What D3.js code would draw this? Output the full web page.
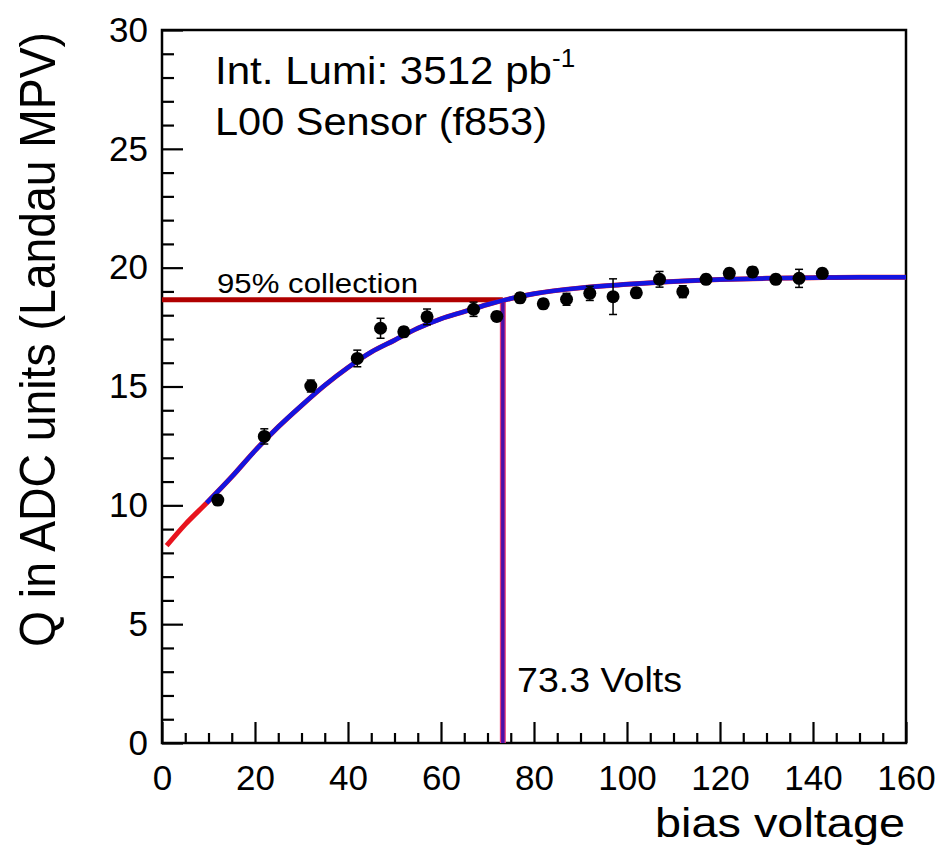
<!DOCTYPE html>
<html>
<head>
<meta charset="utf-8">
<title>Q vs bias voltage</title>
<script src="https://cdn.jsdelivr.net/npm/d3@7"></script>
<style>
  body { margin: 0; background: #fff; }
  svg { display: block; font-family: "Liberation Sans", Arial, sans-serif; }
  .domain { display: none; }
  .tick line { stroke: #000; stroke-width: 2.2; }
</style>
</head>
<body>
<svg id="chart" width="946" height="853"></svg>
<script>
// measured points
var voltage = [12, 22, 32, 42, 47, 52, 57, 67, 72, 77, 82, 87, 92, 97, 102, 107, 112, 117, 122, 127, 132, 137, 142];
var charge  = [10.22, 12.9, 15.02, 16.18, 17.45, 17.3, 17.93, 18.25, 17.95, 18.73, 18.48, 18.67, 18.92, 18.78, 18.94, 19.51, 18.99, 19.51, 19.76, 19.82, 19.51, 19.55, 19.76];
var chargeErr = [0.2, 0.32, 0.25, 0.35, 0.42, 0.2, 0.33, 0.3, 0.2, 0.2, 0.2, 0.25, 0.3, 0.75, 0.2, 0.33, 0.25, 0.2, 0.2, 0.2, 0.2, 0.38, 0.2];

// fit curve
var fitX = [1, 5, 9.6, 15, 20, 25, 30, 35, 40, 45, 50, 55, 60, 65, 70, 75, 80, 90, 100, 110, 120, 130, 140, 150, 160];
var fitY = [8.3, 9.2, 10.1, 11.2, 12.3, 13.3, 14.2, 15.05, 15.8, 16.45, 16.95, 17.45, 17.85, 18.15, 18.45, 18.7, 18.9, 19.15, 19.3, 19.42, 19.5, 19.55, 19.58, 19.6, 19.6];
var fitStart = 9.6;

var depletionV = 73.3;
var collection95 = 18.65;

var xMajor = [0, 20, 40, 60, 80, 100, 120, 140, 160];
var yMajor = [0, 5, 10, 15, 20, 25, 30];

var svg = d3.select("#chart");
var plotL = 162, plotR = 906, plotT = 30, plotB = 743;

var x = d3.scaleLinear().domain([0, 160]).range([plotL, plotR]);
var y = d3.scaleLinear().domain([0, 30]).range([plotB, plotT]);

// minor ticks
var xMinor = d3.range(0, 161, 5).filter(function (v) { return v % 20 != 0; });
var yMinor = d3.range(0, 31, 1).filter(function (v) { return v % 5 != 0; });

svg.append("g").attr("transform", "translate(0," + plotB + ")")
  .call(d3.axisBottom(x).tickValues(xMinor).tickSize(-10).tickFormat(""));
svg.append("g").attr("transform", "translate(" + plotL + ",0)")
  .call(d3.axisLeft(y).tickValues(yMinor).tickSize(-12).tickFormat(""));

var xAxis = svg.append("g").attr("transform", "translate(0," + plotB + ")")
  .call(d3.axisBottom(x).tickValues(xMajor).tickSize(-21).tickPadding(22).tickFormat(d3.format("d")));
var yAxis = svg.append("g").attr("transform", "translate(" + plotL + ",0)")
  .call(d3.axisLeft(y).tickValues(yMajor).tickSize(-21).tickPadding(14).tickFormat(d3.format("d")));

[xAxis, yAxis].forEach(function (a) {
  a.selectAll("text").attr("fill", "#000").style("font-size", "35px");
});

// frame
svg.append("rect")
  .attr("x", plotL).attr("y", plotT)
  .attr("width", plotR - plotL).attr("height", plotB - plotT)
  .attr("fill", "none").attr("stroke", "#000").attr("stroke-width", 2.5);

// 95% collection line
svg.append("line")
  .attr("x1", x(0)).attr("x2", x(depletionV))
  .attr("y1", y(collection95)).attr("y2", y(collection95))
  .attr("stroke", "#b00000").attr("stroke-width", 5);

// depletion voltage line
svg.append("line")
  .attr("x1", x(depletionV)).attr("x2", x(depletionV))
  .attr("y1", y(0)).attr("y2", y(collection95))
  .attr("stroke", "#e8407a").attr("stroke-width", 6);
svg.append("line")
  .attr("x1", x(depletionV)).attr("x2", x(depletionV))
  .attr("y1", y(0)).attr("y2", y(collection95))
  .attr("stroke", "#4a10a8").attr("stroke-width", 3.5);

// fit curve: red full range, blue over fitted range
var fitPts = fitX.map(function (v, i) { return [v, fitY[i]]; });
var line = d3.line()
  .x(function (d) { return x(d[0]); })
  .y(function (d) { return y(d[1]); })
  .curve(d3.curveMonotoneX);

svg.append("path").datum(fitPts)
  .attr("d", line).attr("fill", "none")
  .attr("stroke", "#e8141e").attr("stroke-width", 5);
svg.append("path").datum(fitPts.filter(function (d) { return d[0] >= fitStart; }))
  .attr("d", line).attr("fill", "none")
  .attr("stroke", "#1414e0").attr("stroke-width", 4.5);

// data points with error bars
var pts = voltage.map(function (v, i) { return { v: v, q: charge[i], e: chargeErr[i] }; });
var g = svg.append("g").selectAll("g").data(pts).enter().append("g");
g.append("line")
  .attr("x1", function (d) { return x(d.v); }).attr("x2", function (d) { return x(d.v); })
  .attr("y1", function (d) { return y(d.q - d.e); }).attr("y2", function (d) { return y(d.q + d.e); })
  .attr("stroke", "#000").attr("stroke-width", 1.5);
[-1, 1].forEach(function (s) {
  g.append("line")
    .attr("x1", function (d) { return x(d.v) - 4; }).attr("x2", function (d) { return x(d.v) + 4; })
    .attr("y1", function (d) { return y(d.q + s * d.e); }).attr("y2", function (d) { return y(d.q + s * d.e); })
    .attr("stroke", "#000").attr("stroke-width", 1.5);
});
g.append("circle")
  .attr("cx", function (d) { return x(d.v); })
  .attr("cy", function (d) { return y(d.q); })
  .attr("r", 6.5).attr("fill", "#000");

// texts
var lumi = svg.append("text").attr("x", 215).attr("y", 84).style("font-size", "38px");
lumi.append("tspan").text("Int. Lumi: 3512 pb").attr("textLength", 337).attr("lengthAdjust", "spacingAndGlyphs");
lumi.append("tspan").text("-1").attr("dy", -17).style("font-size", "26px");

svg.append("text").attr("x", 215).attr("y", 135).style("font-size", "38px")
  .attr("textLength", 332).attr("lengthAdjust", "spacingAndGlyphs")
  .text("L00 Sensor (f853)");

svg.append("text").attr("x", 217).attr("y", 293).style("font-size", "27px")
  .attr("textLength", 201).attr("lengthAdjust", "spacingAndGlyphs")
  .text("95% collection");

svg.append("text").attr("x", 517).attr("y", 692).style("font-size", "35px")
  .attr("textLength", 165).attr("lengthAdjust", "spacingAndGlyphs")
  .text("73.3 Volts");

svg.append("text").attr("x", 905).attr("y", 837).attr("text-anchor", "end")
  .style("font-size", "40px")
  .attr("textLength", 250).attr("lengthAdjust", "spacingAndGlyphs")
  .text("bias voltage");

svg.append("text")
  .attr("transform", "translate(55,647) rotate(-90)")
  .style("font-size", "50px")
  .attr("textLength", 615).attr("lengthAdjust", "spacingAndGlyphs")
  .text("Q in ADC units (Landau MPV)");
</script>
</body>
</html>
